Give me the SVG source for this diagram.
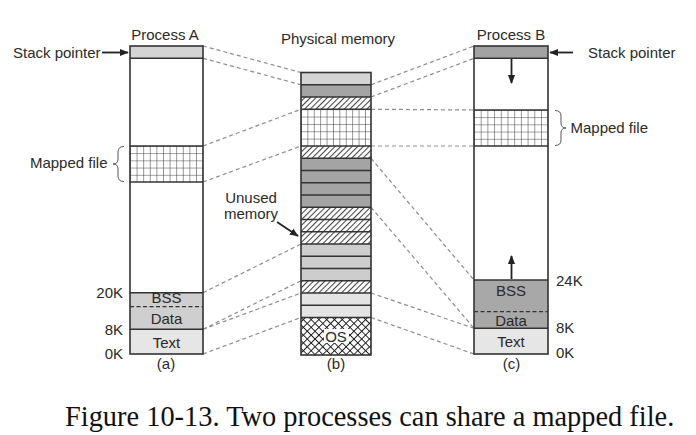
<svg xmlns="http://www.w3.org/2000/svg" width="696" height="435" viewBox="0 0 696 435">
<defs>
<style>
.lbl{font-family:"Liberation Sans",Arial,sans-serif;font-size:15px;fill:#2a2a2a}
.cap{font-family:"Liberation Serif","Times New Roman",serif;font-size:28.4px;fill:#111}
.box{fill:none;stroke:#333;stroke-width:1.6}
.sep{stroke:#333;stroke-width:1.5}
.dash{stroke:#333;stroke-width:1.2;stroke-dasharray:4 2.5}
.conn{fill:none;stroke:#8c8c8c;stroke-width:1.2;stroke-dasharray:4 3}
.brace{fill:none;stroke:#555;stroke-width:1}
.arr{stroke:#222;stroke-width:1.8;fill:none}
</style>
<pattern id="gridA" patternUnits="userSpaceOnUse" x="130" y="146" width="6.6" height="7.2">
<rect width="6.6" height="7.2" fill="#fff"/>
<path d="M0 0V7.2M0 0H6.6" stroke="#333" stroke-width="1"/>
</pattern>
<pattern id="gridP" patternUnits="userSpaceOnUse" x="301" y="109.25" width="6.4" height="7.35">
<rect width="6.4" height="7.35" fill="#fff"/>
<path d="M0 0V7.35M0 0H6.4" stroke="#333" stroke-width="1"/>
</pattern>
<pattern id="gridB" patternUnits="userSpaceOnUse" x="474" y="110" width="6.7" height="7.2">
<rect width="6.7" height="7.2" fill="#fff"/>
<path d="M0 0V7.2M0 0H6.7" stroke="#333" stroke-width="1"/>
</pattern>
<pattern id="hatch" patternUnits="userSpaceOnUse" width="4" height="10" patternTransform="rotate(45)">
<rect width="4" height="10" fill="#fff"/>
<line x1="0.5" y1="0" x2="0.5" y2="10" stroke="#444" stroke-width="1.1"/>
</pattern>
<pattern id="os" patternUnits="userSpaceOnUse" width="5.5" height="5.5" patternTransform="rotate(45)">
<rect width="5.5" height="5.5" fill="#fff"/>
<path d="M0 0V5.5M0 0H5.5" stroke="#1a1a1a" stroke-width="1.9"/>
</pattern>
<marker id="ah" viewBox="0 0 10 10" refX="9" refY="5" markerWidth="5" markerHeight="5" orient="auto" markerUnits="strokeWidth">
<path d="M0 1L10 5L0 9Z" fill="#222"/>
</marker>
</defs>
<rect width="696" height="435" fill="#fff"/>

<g id="connectors">
<line class="conn" x1="203" y1="46" x2="301" y2="72.5"/>
<line class="conn" x1="203" y1="58.3" x2="301" y2="84.75"/>
<line class="conn" x1="203" y1="146" x2="301" y2="109.25"/>
<line class="conn" x1="203" y1="182" x2="301" y2="146"/>
<line class="conn" x1="203" y1="292.7" x2="301" y2="244"/>
<line class="conn" x1="203" y1="329.3" x2="301" y2="280.75"/>
<line class="conn" x1="203" y1="329.3" x2="301" y2="293"/>
<line class="conn" x1="203" y1="354" x2="301" y2="317.5"/>
<line class="conn" x1="371" y1="84.75" x2="474" y2="46"/>
<line class="conn" x1="371" y1="97" x2="474" y2="58.3"/>
<line class="conn" x1="371" y1="109.25" x2="474" y2="110"/>
<line class="conn" x1="371" y1="146" x2="474" y2="146"/>
<line class="conn" x1="371" y1="158.25" x2="474" y2="280"/>
<line class="conn" x1="371" y1="207.25" x2="474" y2="328.3"/>
<line class="conn" x1="371" y1="293" x2="474" y2="328.3"/>
<line class="conn" x1="371" y1="317.5" x2="474" y2="354"/>
</g>

<g id="processA">
<text class="lbl" x="165" y="40" text-anchor="middle">Process A</text>
<rect x="130" y="46" width="73" height="308" fill="#fff"/>
<rect x="130" y="46" width="73" height="12.3" fill="#d4d4d4"/>
<rect x="130" y="146" width="73" height="36" fill="url(#gridA)"/>
<rect x="130" y="292.7" width="73" height="36.6" fill="#cfcfcf"/>
<rect x="130" y="329.3" width="73" height="24.7" fill="#e6e6e6"/>
<line class="sep" x1="130" y1="58.3" x2="203" y2="58.3"/>
<line class="sep" x1="130" y1="146" x2="203" y2="146"/>
<line class="sep" x1="130" y1="182" x2="203" y2="182"/>
<line class="sep" x1="130" y1="292.7" x2="203" y2="292.7"/>
<line class="dash" x1="130" y1="306.7" x2="203" y2="306.7"/>
<line class="sep" x1="130" y1="329.3" x2="203" y2="329.3"/>
<rect class="box" x="130" y="46" width="73" height="308"/>
<text class="lbl" x="166.5" y="303.3" text-anchor="middle">BSS</text>
<text class="lbl" x="166.5" y="324" text-anchor="middle">Data</text>
<text class="lbl" x="166.5" y="347.5" text-anchor="middle">Text</text>
<text class="lbl" x="123" y="297.7" text-anchor="end">20K</text>
<text class="lbl" x="123" y="335" text-anchor="end">8K</text>
<text class="lbl" x="123" y="359.3" text-anchor="end">0K</text>
<text class="lbl" x="166" y="369" text-anchor="middle">(a)</text>
<text class="lbl" x="13" y="57.5">Stack pointer</text>
<line class="arr" x1="102" y1="52.5" x2="128" y2="52.5" marker-end="url(#ah)"/>
<text class="lbl" x="107.5" y="168.3" text-anchor="end">Mapped file</text>
<path class="brace" d="M124 146.5Q118 146.5 118 152V159Q118 164 113 164Q118 164 118 169V176Q118 181.5 124 181.5"/>
</g>

<g id="physical">
<text class="lbl" x="338" y="44" text-anchor="middle">Physical memory</text>
<rect x="301" y="72.5" width="70" height="12.25" fill="#d4d4d4"/>
<rect x="301" y="84.75" width="70" height="12.25" fill="#a4a4a4"/>
<rect x="301" y="97" width="70" height="12.25" fill="url(#hatch)"/>
<rect x="301" y="109.25" width="70" height="36.75" fill="url(#gridP)"/>
<rect x="301" y="146" width="70" height="12.25" fill="url(#hatch)"/>
<rect x="301" y="158.25" width="70" height="49" fill="#a4a4a4"/>
<rect x="301" y="207.25" width="70" height="36.75" fill="url(#hatch)"/>
<rect x="301" y="244" width="70" height="36.75" fill="#cdcdcd"/>
<rect x="301" y="280.75" width="70" height="12.25" fill="url(#hatch)"/>
<rect x="301" y="293" width="70" height="24.5" fill="#e4e4e4"/>
<rect x="301" y="317.5" width="70" height="37.5" fill="url(#os)"/>
<g class="sep">
<line x1="301" y1="84.75" x2="371" y2="84.75"/>
<line x1="301" y1="97" x2="371" y2="97"/>
<line x1="301" y1="109.25" x2="371" y2="109.25"/>
<line x1="301" y1="146" x2="371" y2="146"/>
<line x1="301" y1="158.25" x2="371" y2="158.25"/>
<line x1="301" y1="170.5" x2="371" y2="170.5"/>
<line x1="301" y1="182.75" x2="371" y2="182.75"/>
<line x1="301" y1="195" x2="371" y2="195"/>
<line x1="301" y1="207.25" x2="371" y2="207.25"/>
<line x1="301" y1="219.5" x2="371" y2="219.5"/>
<line x1="301" y1="231.75" x2="371" y2="231.75"/>
<line x1="301" y1="244" x2="371" y2="244"/>
<line x1="301" y1="256.25" x2="371" y2="256.25"/>
<line x1="301" y1="268.5" x2="371" y2="268.5"/>
<line x1="301" y1="280.75" x2="371" y2="280.75"/>
<line x1="301" y1="293" x2="371" y2="293"/>
<line x1="301" y1="305.25" x2="371" y2="305.25"/>
<line x1="301" y1="317.5" x2="371" y2="317.5"/>
</g>
<rect class="box" x="301" y="72.5" width="70" height="282.5"/>
<rect x="324" y="329" width="25" height="14" fill="#fff"/>
<text class="lbl" x="336" y="341.7" text-anchor="middle">OS</text>
<text class="lbl" x="336" y="369" text-anchor="middle">(b)</text>
</g>

<g id="unused">
<text class="lbl" x="251" y="203.3" text-anchor="middle">Unused</text>
<text class="lbl" x="251" y="219.3" text-anchor="middle">memory</text>
<line class="arr" x1="277" y1="222" x2="298" y2="236" marker-end="url(#ah)"/>
</g>

<g id="processB">
<text class="lbl" x="511" y="40" text-anchor="middle">Process B</text>
<rect x="474" y="46" width="74" height="308" fill="#fff"/>
<rect x="474" y="46" width="74" height="12.3" fill="#a2a2a2"/>
<rect x="474" y="110" width="74" height="36" fill="url(#gridB)"/>
<rect x="474" y="280" width="74" height="48.3" fill="#a8a8a8"/>
<rect x="474" y="328.3" width="74" height="25.7" fill="#e6e6e6"/>
<line class="sep" x1="474" y1="58.3" x2="548" y2="58.3"/>
<line class="sep" x1="474" y1="110" x2="548" y2="110"/>
<line class="sep" x1="474" y1="146" x2="548" y2="146"/>
<line class="sep" x1="474" y1="280" x2="548" y2="280"/>
<line class="dash" x1="474" y1="311.7" x2="548" y2="311.7"/>
<line class="sep" x1="474" y1="328.3" x2="548" y2="328.3"/>
<rect class="box" x="474" y="46" width="74" height="308"/>
<line class="arr" x1="511.5" y1="59" x2="511.5" y2="83" marker-end="url(#ah)"/>
<line class="arr" x1="511.5" y1="279" x2="511.5" y2="256" marker-end="url(#ah)"/>
<text class="lbl" x="511" y="296" text-anchor="middle">BSS</text>
<text class="lbl" x="511" y="326" text-anchor="middle">Data</text>
<text class="lbl" x="511" y="346.5" text-anchor="middle">Text</text>
<text class="lbl" x="556" y="285.7">24K</text>
<text class="lbl" x="556" y="332.7">8K</text>
<text class="lbl" x="556" y="358.3">0K</text>
<text class="lbl" x="511.5" y="369" text-anchor="middle">(c)</text>
<text class="lbl" x="588" y="57.5">Stack pointer</text>
<line class="arr" x1="573" y1="52.5" x2="550" y2="52.5" marker-end="url(#ah)"/>
<text class="lbl" x="570.5" y="132.7">Mapped file</text>
<path class="brace" d="M555 110.5Q561 110.5 561 116V123Q561 128 566 128Q561 128 561 133V140Q561 145.5 555 145.5"/>
</g>

<text class="cap" x="65" y="426">Figure 10-13. Two processes can share a mapped file.</text>
</svg>
